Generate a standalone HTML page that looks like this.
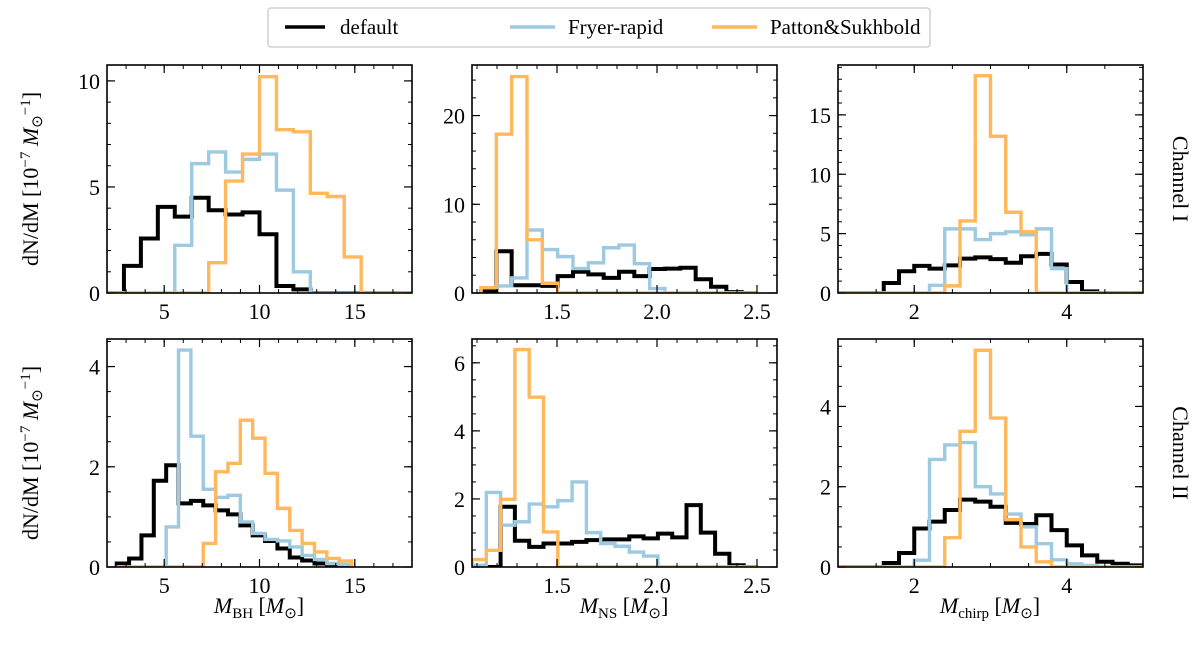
<!DOCTYPE html>
<html><head><meta charset="utf-8"><style>
html,body{margin:0;padding:0;background:#fff}
svg{display:block;font-family:"Liberation Serif",serif}
</style></head><body>
<svg id="fig" width="1200" height="647" viewBox="0 0 1200 647" xmlns="http://www.w3.org/2000/svg">
<g>
<rect x="268" y="8" width="662" height="39" rx="3" fill="#fff" stroke="#d0d0d0" stroke-width="1.5"/>
<line x1="285" y1="27" x2="325" y2="27" stroke="#000" stroke-width="3.5"/>
<text x="340" y="34" font-size="21">default</text>
<line x1="510" y1="27" x2="555" y2="27" stroke="#9ecae1" stroke-width="3.5"/>
<text x="568" y="34" font-size="21">Fryer-rapid</text>
<line x1="712" y1="27" x2="757" y2="27" stroke="#ffb85c" stroke-width="3.5"/>
<text x="770" y="34" font-size="21">Patton&amp;Sukhbold</text>
</g>
<text transform="translate(38,179) rotate(-90)" text-anchor="middle" font-size="22">dN/dM [10<tspan dy="-8" font-size="15">−7</tspan><tspan dy="8"> </tspan><tspan font-style="italic">M</tspan><tspan dy="4" font-size="15">⊙</tspan><tspan dy="-12" font-size="15">−1</tspan><tspan dy="8">]</tspan></text>
<text transform="translate(38,453) rotate(-90)" text-anchor="middle" font-size="22">dN/dM [10<tspan dy="-8" font-size="15">−7</tspan><tspan dy="8"> </tspan><tspan font-style="italic">M</tspan><tspan dy="4" font-size="15">⊙</tspan><tspan dy="-12" font-size="15">−1</tspan><tspan dy="8">]</tspan></text>
<text transform="translate(1173,179) rotate(90)" text-anchor="middle" font-size="22">Channel I</text>
<text transform="translate(1173,453) rotate(90)" text-anchor="middle" font-size="22">Channel II</text>
<text x="259" y="613" text-anchor="middle" font-size="22"><tspan font-style="italic">M</tspan><tspan dy="5" font-size="15">BH</tspan><tspan dy="-5"> [</tspan><tspan font-style="italic">M</tspan><tspan dy="5" font-size="15">⊙</tspan><tspan dy="-5">]</tspan></text>
<text x="624" y="613" text-anchor="middle" font-size="22"><tspan font-style="italic">M</tspan><tspan dy="5" font-size="15">NS</tspan><tspan dy="-5"> [</tspan><tspan font-style="italic">M</tspan><tspan dy="5" font-size="15">⊙</tspan><tspan dy="-5">]</tspan></text>
<text x="990" y="613" text-anchor="middle" font-size="22"><tspan font-style="italic">M</tspan><tspan dy="5" font-size="15">chirp</tspan><tspan dy="-5"> [</tspan><tspan font-style="italic">M</tspan><tspan dy="5" font-size="15">⊙</tspan><tspan dy="-5">]</tspan></text>
</svg>
<script>
// Panel TL: BH channel I (bins 2..18, 18 bins)
const tlBins = [2, 18, 18];
const tlDefault = [0,1.28,2.57,4.06,3.6,4.49,3.9,3.7,3.8,2.77,0.33,0.17,0,0,0,0,0,0];
const tlFryer = [0,0,0,0,2.25,6.1,6.65,5.7,6.3,6.55,4.85,1.0,0,0,0,0,0,0];
const tlPatton = [0,0,0,0,0,0,1.43,5.28,6.55,10.2,7.7,7.6,4.7,4.55,1.7,0,0,0];
// Panel TM: NS channel I
const tmBins = [1.12, 2.5, 18];
const tmDefault = [0.2,4.7,0.87,0.87,0.8,1.9,2.4,2.1,1.7,2.4,1.9,2.7,2.75,2.85,1.55,0.7,0.1,0];
const tmFryer = [0.6,0.8,1.7,7.1,4.9,4.1,2.75,3.4,5.1,5.4,3.3,0.5,0,0,0,0,0,0];
const tmPatton = [0.6,17.9,24.4,6.0,1.1,0,0,0,0,0,0,0,0,0,0,0,0,0];
// Panel TR: chirp channel I
const trBins = [1, 5, 20];
const trDefault = [0,0,0,0.84,1.83,2.28,2.05,2.33,2.9,3.0,2.85,2.55,3.1,3.3,2.4,0.93,0.14,0,0,0];
const trFryer = [0,0,0,0,0,0,0.65,5.4,5.4,4.5,5.0,5.15,4.9,5.4,2.05,0,0,0,0,0];
const trPatton = [0,0,0,0,0,0,0,0.6,6.07,18.3,13.2,6.8,5.15,0,0,0,0,0,0,0];
// Panel BL: BH channel II
const blBins = [2.51, 14.83, 19];
const blDefault = [0.07,0.17,0.63,1.72,2.03,1.27,1.32,1.23,1.13,1.05,0.83,0.63,0.52,0.37,0.19,0.13,0.07,0.03,0];
const blFryer = [0,0,0,0,0.8,4.33,2.61,1.55,1.39,1.43,0.9,0.67,0.55,0.52,0.4,0.23,0.15,0.07,0.05];
const blPatton = [0,0,0,0,0,0,0,0.47,1.9,2.07,2.93,2.57,1.87,1.17,0.73,0.47,0.3,0.17,0.12];
// Panel BM: NS channel II
const bmBins = [1.075, 2.505, 20];
const bmDefault = [0,0,1.77,0.77,0.59,0.69,0.69,0.74,0.79,0.81,0.81,0.9,0.84,0.98,0.87,1.82,1.01,0.39,0.05,0];
const bmFryer = [0.05,2.19,1.23,1.33,1.85,1.77,1.95,2.5,1.01,0.69,0.61,0.44,0.32,0,0,0,0,0,0,0];
const bmPatton = [0.22,0.49,1.99,6.39,4.99,1.03,0,0,0,0,0,0,0,0,0,0,0,0,0,0];
// Panel BR: chirp channel II
const brBins = [1, 5, 20];
const brDefault = [0,0,0,0.1,0.35,0.96,1.13,1.42,1.68,1.63,1.5,1.1,1.07,1.29,0.92,0.54,0.29,0.13,0.08,0.04];
const brFryer = [0,0,0,0,0,0.17,2.68,3.04,3.1,2.0,1.82,1.32,1.0,0.58,0.18,0.08,0.04,0,0,0];
const brPatton = [0,0,0,0,0,0,0,0.73,3.38,5.4,3.71,1.18,0.5,0.13,0,0,0,0,0,0];
// tick labels
const bhXTicks = ["5","10","15"];
const nsXTicks = ["1.5","2.0","2.5"];
const chXTicks = ["2","4"];
const tlYTicks = ["0","5","10"];
const tmYTicks = ["0","10","20"];
const trYTicks = ["0","5","10","15"];
const blYTicks = ["0","2","4"];
const bmYTicks = ["0","2","4","6"];
const brYTicks = ["0","2","4"];

const NS = "http://www.w3.org/2000/svg";
const svg = document.getElementById('fig');
function mk(tag, attrs, parent){const e=document.createElementNS(NS,tag);for(const k in attrs)e.setAttribute(k,attrs[k]);(parent||svg).appendChild(e);return e;}

const panels = [
 {name:'bh-channel-1',box:[107,65,412,293],xr:[2,18],yr:[0,10.75],xmin:1,ymin:1,xt:bhXTicks,yt:tlYTicks,bins:tlBins,s:[tlDefault,tlFryer,tlPatton]},
 {name:'ns-channel-1',box:[472,65,777,293],xr:[1.075,2.6],yr:[0,25.7],xmin:0.1,ymin:2,xt:nsXTicks,yt:tmYTicks,bins:tmBins,s:[tmDefault,tmFryer,tmPatton]},
 {name:'chirp-channel-1',box:[838,65,1143,293],xr:[1,5],yr:[0,19.2],xmin:0.5,ymin:1,xt:chXTicks,yt:trYTicks,bins:trBins,s:[trDefault,trFryer,trPatton]},
 {name:'bh-channel-2',box:[107,339,412,567],xr:[2,18],yr:[0,4.55],xmin:1,ymin:0.5,xt:bhXTicks,yt:blYTicks,bins:blBins,s:[blDefault,blFryer,blPatton]},
 {name:'ns-channel-2',box:[472,339,777,567],xr:[1.075,2.6],yr:[0,6.7],xmin:0.1,ymin:0.5,xt:nsXTicks,yt:bmYTicks,bins:bmBins,s:[bmDefault,bmFryer,bmPatton]},
 {name:'chirp-channel-2',box:[838,339,1143,567],xr:[1,5],yr:[0,5.68],xmin:0.5,ymin:0.5,xt:chXTicks,yt:brYTicks,bins:brBins,s:[brDefault,brFryer,brPatton]}
];
const colors=['#000000','#9ecae1','#ffb85c'];
const widths=[4,3.4,3.4];
const sNames=['default','fryer-rapid','patton-sukhbold'];

panels.forEach(p=>{
 const [x0,y0,x1,y1]=p.box;
 const g=mk('g',{});
 
 
 const X=v=>x0+(v-p.xr[0])/(p.xr[1]-p.xr[0])*(x1-x0);
 const Y=v=>y1-(v-p.yr[0])/(p.yr[1]-p.yr[0])*(y1-y0);
 const cp='cp-'+p.name;
 const cpe=mk('clipPath',{id:cp},g); mk('rect',{x:x0,y:y0,width:x1-x0,height:y1-y0},cpe);
 [0,1,2].forEach(i=>{
  const vals=p.s[i]; const [b0,b1,n]=p.bins; const w=(b1-b0)/n;
  let d='M'+X(b0)+','+Y(0);
  vals.forEach((v,k)=>{d+=' L'+X(b0+k*w)+','+Y(v)+' L'+X(b0+(k+1)*w)+','+Y(v);});
  d+=' L'+X(b1)+','+Y(0);
  const path=mk('path',{d:d,fill:'none',stroke:colors[i],'stroke-width':widths[i],'stroke-linejoin':'miter','clip-path':'url(#'+cp+')'},g);
  
  
 });
 const fr=mk('rect',{x:x0,y:y0,width:x1-x0,height:y1-y0,fill:'none',stroke:'#000','stroke-width':1.6},g);
 
 
 for(let v=Math.ceil(p.xr[0]/p.xmin-1e-6)*p.xmin; v<=p.xr[1]+1e-9; v+=p.xmin){
  const x=X(v); mk('line',{x1:x,y1:y1,x2:x,y2:y1-4,stroke:'#000','stroke-width':1},g); mk('line',{x1:x,y1:y0,x2:x,y2:y0+4,stroke:'#000','stroke-width':1},g);
 }
 for(let v=0; v<=p.yr[1]+1e-9; v+=p.ymin){
  const y=Y(v); mk('line',{x1:x0,y1:y,x2:x0+4,y2:y,stroke:'#000','stroke-width':1},g); mk('line',{x1:x1,y1:y,x2:x1-4,y2:y,stroke:'#000','stroke-width':1},g);
 }
 p.xt.forEach(t=>{
  const x=X(parseFloat(t));
  mk('line',{x1:x,y1:y1,x2:x,y2:y1-8,stroke:'#000','stroke-width':1.2},g); mk('line',{x1:x,y1:y0,x2:x,y2:y0+8,stroke:'#000','stroke-width':1.2},g);
  const tx=mk('text',{x:x,y:y1+26,'text-anchor':'middle','font-size':22},g); tx.textContent=t;
  
  
 });
 p.yt.forEach(t=>{
  const y=Y(parseFloat(t));
  mk('line',{x1:x0,y1:y,x2:x0+8,y2:y,stroke:'#000','stroke-width':1.2},g); mk('line',{x1:x1,y1:y,x2:x1-8,y2:y,stroke:'#000','stroke-width':1.2},g);
  const tx=mk('text',{x:x0-7,y:y+8,'text-anchor':'end','font-size':22},g); tx.textContent=t;
  
  
 });
});
</script>
</body></html>
